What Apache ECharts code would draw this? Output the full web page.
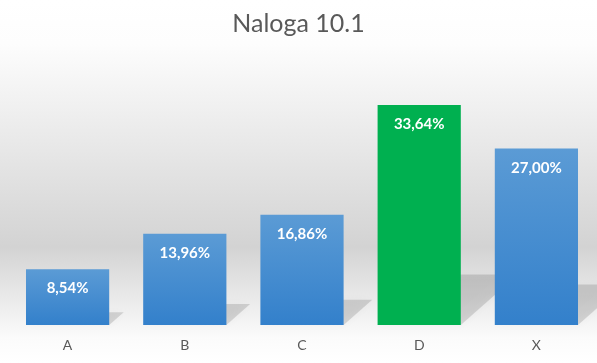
<!DOCTYPE html>
<html>
<head>
<meta charset="utf-8">
<style>html,body{margin:0;padding:0;background:#fff}#c{width:597px;height:363px}</style>
<script src="https://cdn.jsdelivr.net/npm/echarts@6/dist/echarts.min.js"></script>
</head>
<body>
<div id="c"></div>
<script>
const categories = ['A', 'B', 'C', 'D', 'X'];
const values = [8.54, 13.96, 16.86, 33.64, 27.00];
const highlight = 'D';
const titleText = 'Naloga 10.1';

const chart = echarts.init(document.getElementById('c'));
const blue = new echarts.graphic.LinearGradient(0, 0, 0, 1, [
  {offset: 0, color: '#5B9BD5'}, {offset: 1, color: '#3380CB'}
]);
const green = '#00B050';

const shadowData = values.map((v, i) => [i, v]);

chart.setOption({
  backgroundColor: new echarts.graphic.LinearGradient(0, 0, 0, 1, [
    {offset: 0, color: '#ffffff'},
    {offset: 0.12, color: '#fdfdfd'},
    {offset: 0.68, color: '#d3d3d3'},
    {offset: 0.93, color: '#fbfbfb'},
    {offset: 1, color: '#ffffff'}
  ]),
  animation: false,
  title: {
    text: titleText, left: 'center', top: 6,
    textStyle: {fontFamily: 'Lato', fontSize: 25, fontWeight: 'normal', color: '#595959'}
  },
  grid: {left: 9, right: 2, top: 63.4, bottom: 38},
  xAxis: {
    type: 'category', data: categories,
    axisLine: {show: false}, axisTick: {show: false},
    axisLabel: {margin: 13, fontFamily: 'Lato', fontSize: 14, color: '#595959'}
  },
  yAxis: {type: 'value', min: 0, max: 40, interval: 10, show: false, splitLine: {show: false}},
  series: [
    {
      type: 'custom', z: 1, silent: true,
      data: shadowData,
      renderItem: function (params, api) {
        const i = api.value(0), v = api.value(1);
        const base = api.coord([i, 0]);
        const top = api.coord([i, v]);
        const bw = api.size([1, 0])[0] * 0.71;
        const h = base[1] - top[1];
        const x0 = base[0] - bw / 2, x1 = base[0] + bw / 2;
        const dx = h * 0.26, dy = h * 0.23;
        return {
          type: 'polygon',
          shape: {points: [[x0, base[1]], [x1, base[1]], [x1 + dx, base[1] - dy], [x0 + dx, base[1] - dy]]},
          style: {fill: 'rgba(0,0,0,0.13)', shadowBlur: 8, shadowColor: 'rgba(0,0,0,0.2)'}
        };
      }
    },
    {
      type: 'bar', z: 2,
      barWidth: '71%',
      data: values.map((v, i) => ({
        value: v,
        itemStyle: {color: categories[i] === highlight ? green : blue}
      })),
      label: {
        show: true, position: 'insideTop', distance: 12,
        formatter: p => p.value.toFixed(2).replace('.', ',') + '%',
        fontFamily: 'Lato', fontWeight: 'bold', fontSize: 15, color: '#ffffff'
      }
    }
  ]
});
</script>
</body>
</html>
